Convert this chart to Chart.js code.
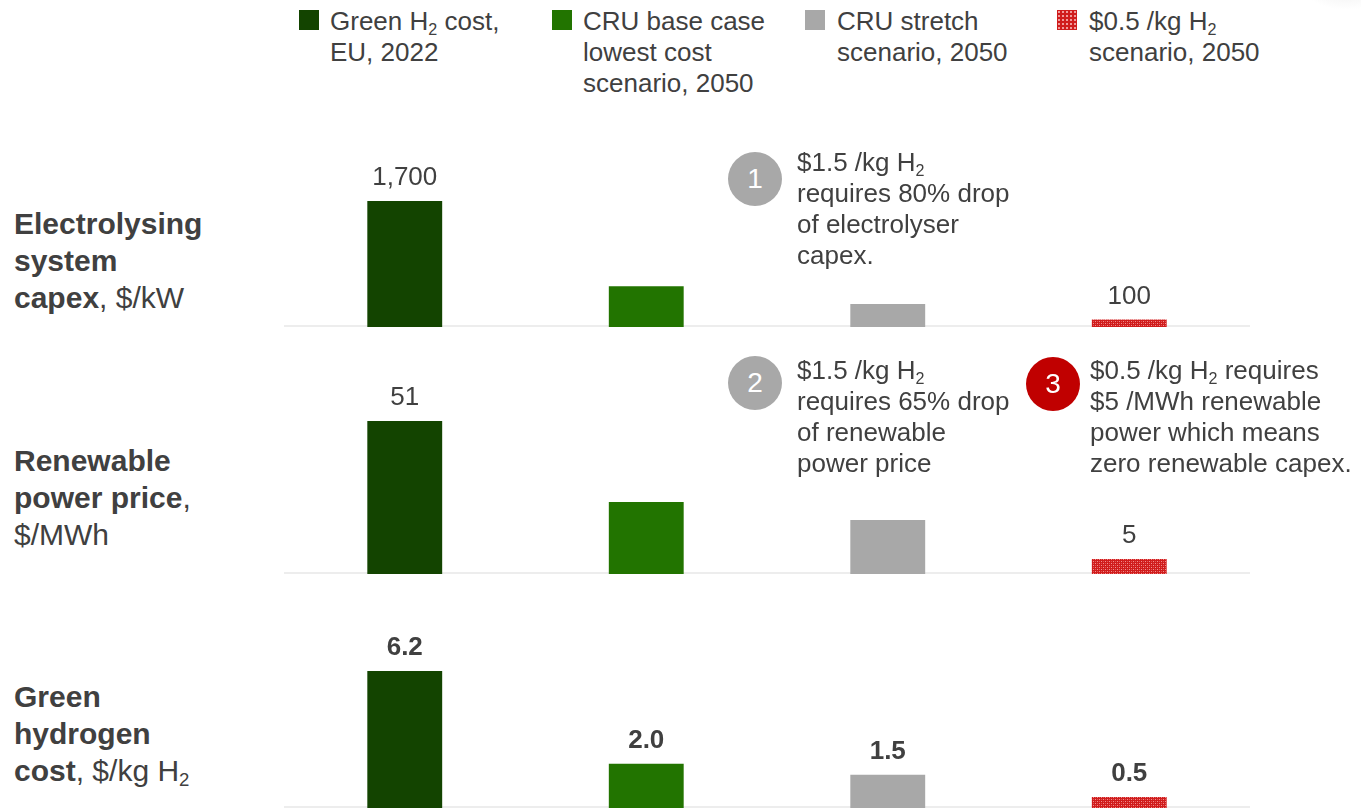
<!DOCTYPE html>
<html>
<head>
<meta charset="utf-8">
<script src="https://cdn.jsdelivr.net/npm/chart.js@4.4.1/dist/chart.umd.min.js"></script>
<style>
    body { margin: 0; background: #fff; }
    #page { position: relative; width: 1361px; height: 808px; overflow: hidden; font-family: "Liberation Sans", Arial, sans-serif; color: #404040; }
    canvas { position: absolute; left: 284px; }
    .txt { position: absolute; font-size: 26px; line-height: 31px; white-space: nowrap; }
    .rowlbl { position: absolute; left: 14px; font-size: 30px; line-height: 37px; white-space: nowrap; }
    .rowlbl b { font-weight: bold; }
    sub { font-size: 62%; vertical-align: -0.28em; line-height: 0; }
    .sw { position: absolute; top: 10px; width: 20px; height: 20px; }
    .num { position: absolute; width: 54px; height: 54px; border-radius: 50%; color: #fff; font-size: 28px; line-height: 54px; text-align: center; }
    .corner { position: absolute; right: -30px; top: -40px; width: 90px; height: 50px; border-radius: 50%; background: radial-gradient(#eeeeee, rgba(255,255,255,0) 70%); }
</style>
</head>
<body>
<div id="page">
    <div class="corner"></div>

    <canvas id="capexChart" width="966" height="197" style="top:130px"></canvas>
    <canvas id="powerChart" width="966" height="234" style="top:340px"></canvas>
    <canvas id="hydrogenChart" width="966" height="208" style="top:600px"></canvas>

    <!-- legend -->
    <div class="sw" style="left:299px;background:#134400"></div>
    <div class="txt" style="left:330px;top:6px">Green H<sub>2</sub> cost,<br>EU, 2022</div>
    <div class="sw" style="left:552px;background:#227400"></div>
    <div class="txt" style="left:583px;top:6px">CRU base case<br>lowest cost<br>scenario, 2050</div>
    <div class="sw" style="left:805px;background:#a8a8a8"></div>
    <div class="txt" style="left:837px;top:6px">CRU stretch<br>scenario, 2050</div>
    <div class="sw" id="redSwatch" style="left:1057px"></div>
    <div class="txt" style="left:1089px;top:6px">$0.5 /kg H<sub>2</sub><br>scenario, 2050</div>

    <!-- row titles -->
    <div class="rowlbl" style="top:205px"><b>Electrolysing<br>system<br>capex</b>, $/kW</div>
    <div class="rowlbl" style="top:442px"><b>Renewable<br>power price</b>,<br>$/MWh</div>
    <div class="rowlbl" style="top:678px"><b>Green<br>hydrogen<br>cost</b>, $/kg H<sub>2</sub></div>

    <!-- notes -->
    <div class="num" style="left:728px;top:152px;background:#a8a8a8">1</div>
    <div class="txt" style="left:797px;top:147px">$1.5 /kg H<sub>2</sub><br>requires 80% drop<br>of electrolyser<br>capex.</div>
    <div class="num" style="left:728px;top:356px;background:#a8a8a8">2</div>
    <div class="txt" style="left:797px;top:355px">$1.5 /kg H<sub>2</sub><br>requires 65% drop<br>of renewable<br>power price</div>
    <div class="num" style="left:1026px;top:357px;background:#c00000">3</div>
    <div class="txt" style="left:1090px;top:355px">$0.5 /kg H<sub>2</sub> requires<br>$5 /MWh renewable<br>power which means<br>zero renewable capex.</div>
</div>

<script>
// scenarios along the x axis
var scenarios = ["Green H2 cost, EU, 2022", "CRU base case lowest cost scenario, 2050", "CRU stretch scenario, 2050", "$0.5 /kg H2 scenario, 2050"];

// values per row
var capexValues = [1700, 550, 310, 100];      // $/kW
var powerValues = [51, 24, 18, 5];            // $/MWh
var hydrogenValues = [6.2, 2.0, 1.5, 0.5];    // $/kg H2

// which bars get a value label
var capexLabelled = [true, false, false, true];
var powerLabelled = [true, false, false, true];
var hydrogenLabelled = [true, true, true, true];

var darkGreen = "#134400";
var green = "#227400";
var grey = "#a8a8a8";

function redPattern() {
    var tile = document.createElement("canvas");
    tile.width = 4;
    tile.height = 4;
    var c = tile.getContext("2d");
    c.fillStyle = "#d01c1c";
    c.fillRect(0, 0, 4, 4);
    c.fillStyle = "#ef8f8f";
    c.fillRect(1, 1, 1, 1);
    c.fillRect(3, 3, 1, 1);
    c.fillStyle = "#e25555";
    c.fillRect(3, 1, 1, 1);
    c.fillRect(1, 3, 1, 1);
    return c.createPattern(tile, "repeat");
}

function swatchPattern() {
    var el = document.getElementById("redSwatch");
    el.style.backgroundColor = "#d01c1c";
    el.style.backgroundImage = "radial-gradient(#f09a9a 28%, rgba(0,0,0,0) 32%)";
    el.style.backgroundSize = "4px 4px";
}

function formatValue(v, style) {
    if (style === "thousands") return v.toLocaleString("en-US");
    if (style === "fixed1") return v.toFixed(1);
    return String(v);
}

// light rule under the bars
var baselinePlugin = {
    id: "baseline",
    beforeDatasetsDraw: function (chart) {
        var ctx = chart.ctx;
        var y = chart.scales.y.getPixelForValue(0) - 1;
        ctx.save();
        ctx.strokeStyle = "#ededed";
        ctx.lineWidth = 2;
        ctx.beginPath();
        ctx.moveTo(chart.chartArea.left, y);
        ctx.lineTo(chart.chartArea.right, y);
        ctx.stroke();
        ctx.restore();
    }
};

// numbers above bars
var valueLabelPlugin = {
    id: "valueLabels",
    afterDatasetsDraw: function (chart) {
        var opts = chart.options.plugins.valueLabels;
        var values = chart.data.datasets[0].data;
        var ctx = chart.ctx;
        var meta = chart.getDatasetMeta(0);
        ctx.save();
        ctx.fillStyle = "#404040";
        ctx.font = opts.weight + " 26px 'Liberation Sans', Arial, sans-serif";
        ctx.textAlign = "center";
        ctx.textBaseline = "middle";
        meta.data.forEach(function (bar, i) {
            if (!opts.show[i]) return;
            ctx.fillText(formatValue(values[i], opts.style), bar.x, bar.y - 23);
        });
        ctx.restore();
    }
};

function barChart(id, values, yMax, labelled, weight, style) {
    var colors = [darkGreen, green, grey, redPattern()];
    return new Chart(document.getElementById(id), {
        type: "bar",
        data: {
            labels: scenarios,
            datasets: [{
                data: values,
                backgroundColor: colors,
                borderWidth: 0,
                categoryPercentage: 1,
                barPercentage: 0.31
            }]
        },
        options: {
            responsive: false,
            animation: false,
            events: [],
            layout: { padding: 0 },
            scales: {
                x: { display: false },
                y: { display: false, min: 0, max: yMax }
            },
            plugins: {
                legend: { display: false },
                tooltip: { enabled: false },
                valueLabels: { show: labelled, weight: weight, style: style }
            }
        },
        plugins: [baselinePlugin, valueLabelPlugin]
    });
}

swatchPattern();
barChart("capexChart", capexValues, 2660, capexLabelled, "normal", "thousands");
barChart("powerChart", powerValues, 78, powerLabelled, "normal", "plain");
barChart("hydrogenChart", hydrogenValues, 9.41, hydrogenLabelled, "bold", "fixed1");
</script>
</body>
</html>
